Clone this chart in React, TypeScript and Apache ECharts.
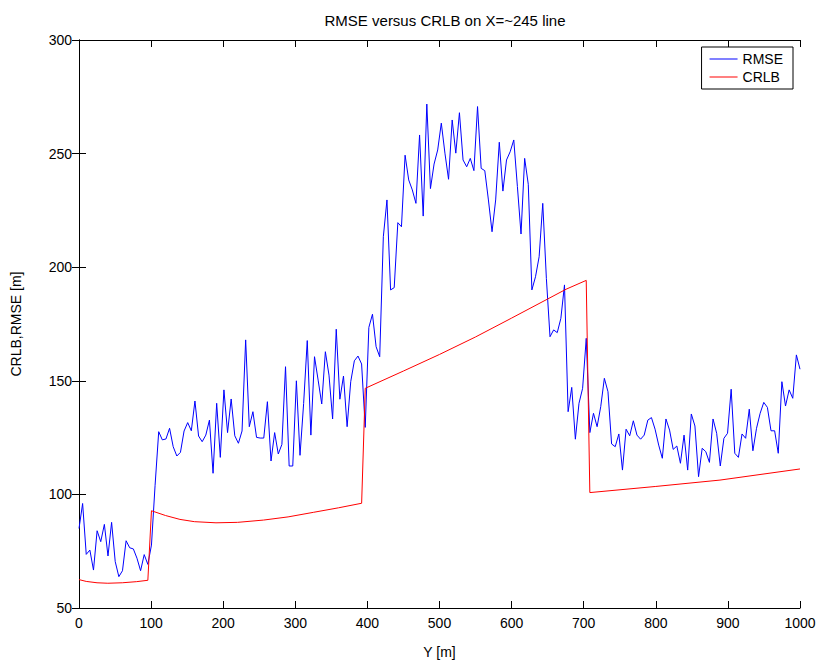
import React, { useEffect, useRef } from "react";
import * as echarts from "echarts";

// RMSE sampled on 200 evenly spaced positions along Y (0..1000 m)
const RMSE: number[] = [
  85, 96, 73.6, 75.5, 66.7, 84, 79.2, 86.8, 72.9, 87.7,
  70.4, 63.8, 66.4, 79.6, 76.5, 76, 71.9, 66.4, 73.5, 69.2,
  77.7, 104, 127.6, 124, 124.4, 129.1, 121, 116.9, 118.5, 127.9,
  131.6, 128, 141.1, 125.7, 123.2, 126.1, 132.7, 109.3, 140.1, 116.3,
  146, 127.2, 142, 125.8, 122.5, 127.9, 168, 129.8, 136.4, 125.1,
  124.8, 124.8, 140.8, 114.7, 127.2, 117.8, 122, 156.2, 112.5, 112.5,
  150, 117.2, 140, 167.7, 126.1, 160.6, 150.3, 139.8, 162.8, 152.5,
  133.2, 172.7, 141.9, 152.1, 129.8, 149.6, 158.8, 160.9, 157.4, 129.5,
  173.5, 179.3, 165, 160.6, 213.4, 229.6, 190, 191, 219.6, 217.8,
  249.3, 238.4, 234, 228.1, 258.2, 222.5, 271.8, 234.6, 245.4, 251.6,
  263.4, 250.2, 238.7, 264.8, 250.2, 268, 247.2, 244.2, 247.9, 242.5,
  270.7, 243.5, 242.5, 229.6, 215.6, 229.6, 255, 233.5, 247.2, 250.8,
  256, 235.5, 214.6, 247.9, 236.5, 190, 195.8, 204.6, 228.1, 195,
  169.4, 172.4, 171.2, 177.5, 192.2, 136.4, 147.1, 124.3, 140.1, 146.7,
  168.7, 127.2, 135.7, 129.8, 138.6, 151.1, 145.2, 122.2, 121, 126.6,
  110.7, 128.7, 125.8, 132.4, 126.1, 124.3, 126.1, 132.7, 133.8, 128.7,
  121.7, 115.9, 133.2, 128.3, 119.8, 121.3, 113.7, 126.1, 110.7, 135.4,
  130.1, 107.8, 120.3, 118.8, 114.1, 133.2, 126.9, 112.5, 124.7, 126.9,
  146.3, 118.1, 116.3, 126.6, 124.7, 137.5, 119.2, 129.1, 135.7, 140.5,
  138.3, 128, 128, 118.1, 149.6, 138.9, 146, 142.3, 161.4, 155.1,
];

// CRLB curve: positions (m) and bound values (m)
const CRLB_Y: number[] = [
  0, 10, 25, 40, 60, 80, 95.5,
  100.5, 120, 140, 160, 190, 220, 256, 290, 325, 360, 392,
  397, 450, 500, 550, 600, 650, 675.5, 703.5,
  708.5, 800, 889, 1000,
];
const CRLB: number[] = [
  62.5, 61.7, 61.1, 60.9, 61.1, 61.6, 62.2,
  92.8, 90.7, 89.0, 88.0, 87.5, 87.7, 88.7, 90.1, 92.1, 94.1, 96.1,
  146.7, 154.3, 161.6, 169.3, 177.6, 186.0, 190.3, 194.2,
  100.8, 103.5, 106.3, 111.2,
];

const X_TICKS = [0, 100, 200, 300, 400, 500, 600, 700, 800, 900, 1000];
const Y_TICKS = [50, 100, 150, 200, 250, 300];

const FONT = "Liberation Sans, Arial, Helvetica, sans-serif";

export default function App() {
  const ref = useRef<HTMLDivElement>(null);

  useEffect(() => {
    if (!ref.current) return;
    const chart = echarts.init(ref.current, undefined, { renderer: "svg" });

    const step = 1000 / (RMSE.length - 1);
    const rmseData = RMSE.map((v, i) => [i * step, v]);
    const crlbData = CRLB.map((v, i) => [CRLB_Y[i], v]);

    const xMin = X_TICKS[0];
    const xMax = X_TICKS[X_TICKS.length - 1];
    const xInt = X_TICKS[1] - X_TICKS[0];
    const yMin = Y_TICKS[0];
    const yMax = Y_TICKS[Y_TICKS.length - 1];
    const yInt = Y_TICKS[1] - Y_TICKS[0];

    const axisLine = { show: true, lineStyle: { color: "#000", width: 1 } };
    const tick = { show: true, inside: true, length: 7, lineStyle: { color: "#000", width: 1 } };
    const label = {
      color: "#000",
      fontSize: 14,
      fontFamily: FONT,
      formatter: (v: number) => String(v),
    };

    chart.setOption({
      animation: false,
      backgroundColor: "#fff",
      title: {
        text: "RMSE versus CRLB on X=~245 line",
        left: 440,
        textAlign: "center",
        top: 8,
        textStyle: { color: "#000", fontSize: 15, fontWeight: "normal", fontFamily: FONT },
      },
      legend: {
        orient: "vertical",
        right: 27,
        top: 47,
        padding: [5, 10, 5, 8],
        itemGap: 4,
        itemWidth: 28,
        itemHeight: 1,
        icon: "rect",
        borderColor: "#000",
        borderWidth: 1,
        backgroundColor: "#fff",
        textStyle: { color: "#000", fontSize: 14, fontFamily: FONT },
        data: ["RMSE", "CRLB"],
      },
      grid: { left: 79, right: 20, top: 40, bottom: 56, containLabel: false },
      xAxis: [
        {
          type: "value",
          min: xMin,
          max: xMax,
          interval: xInt,
          position: "bottom",
          axisLine,
          axisTick: tick,
          splitLine: { show: false },
          axisLabel: { ...label, margin: 8 },
          name: "Y [m]",
          nameLocation: "middle",
          nameGap: 37,
          nameTextStyle: { color: "#000", fontSize: 14, fontFamily: FONT },
        },
        {
          type: "value",
          min: xMin,
          max: xMax,
          interval: xInt,
          position: "top",
          axisLine,
          axisTick: tick,
          splitLine: { show: false },
          axisLabel: { show: false },
        },
      ],
      yAxis: [
        {
          type: "value",
          min: yMin,
          max: yMax,
          interval: yInt,
          position: "left",
          axisLine,
          axisTick: tick,
          splitLine: { show: false },
          axisLabel: { ...label, margin: 7 },
          name: "CRLB,RMSE [m]",
          nameLocation: "middle",
          nameGap: 56,
          nameRotate: 90,
          nameTextStyle: { color: "#000", fontSize: 14, fontFamily: FONT },
        },
        {
          type: "value",
          min: yMin,
          max: yMax,
          interval: yInt,
          position: "right",
          axisLine,
          axisTick: tick,
          splitLine: { show: false },
          axisLabel: { show: false },
        },
      ],
      series: [
        {
          name: "RMSE",
          type: "line",
          data: rmseData,
          symbol: "none",
          lineStyle: { color: "#0000ff", width: 1 },
          itemStyle: { color: "#0000ff" },
        },
        {
          name: "CRLB",
          type: "line",
          data: crlbData,
          symbol: "none",
          lineStyle: { color: "#ff0000", width: 1 },
          itemStyle: { color: "#ff0000" },
        },
      ],
    });

    return () => chart.dispose();
  }, []);

  return (
    <div
      ref={ref}
      style={{ position: "fixed", left: 0, top: 0, width: 820, height: 664, background: "#fff" }}
    />
  );
}
